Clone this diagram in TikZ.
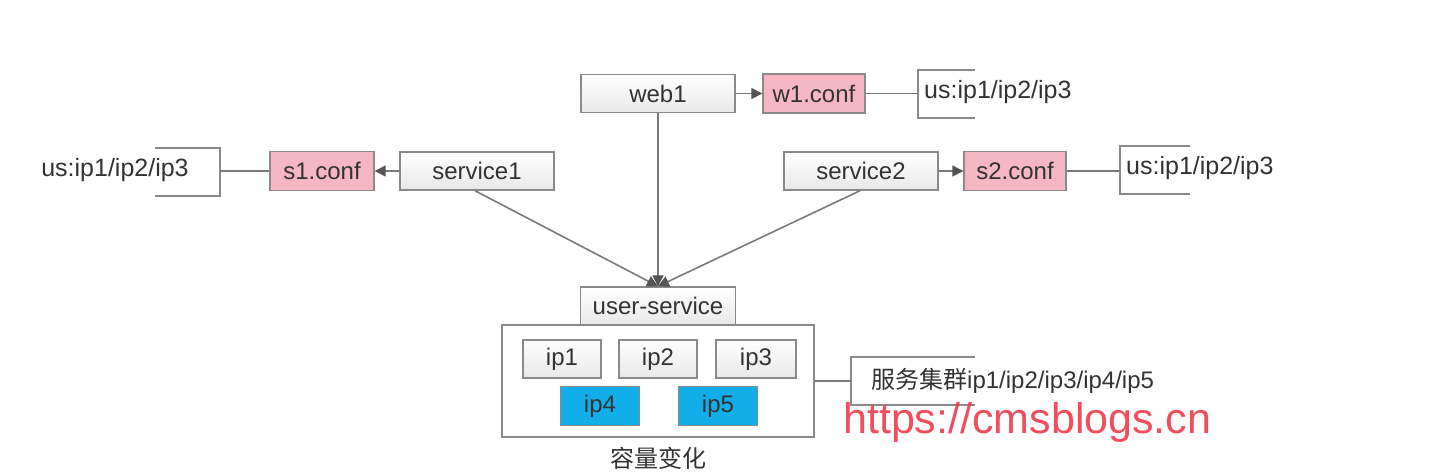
\documentclass[tikz,border=0pt]{standalone}
\usepackage{fontspec}
\setmainfont{Liberation Sans}
\newfontfamily\cjk{Noto Sans CJK SC}
\usetikzlibrary{arrows.meta}
\definecolor{edge}{HTML}{7A7A7A}
\definecolor{boxline}{HTML}{8A8A8A}
\definecolor{txt}{HTML}{333333}
\definecolor{headc}{HTML}{555555}
\definecolor{pinkfill}{HTML}{F6B7C5}
\definecolor{bluefill}{HTML}{12AEEA}
\definecolor{wmred}{HTML}{F03A4E}
\tikzset{
  gbox/.style={draw=boxline, line width=1.4pt, top color=white, bottom color=black!9, minimum height=38pt, inner sep=0pt, text=txt, font=\fontsize{24}{27}\selectfont},
  pbox/.style={draw=boxline, line width=1.4pt, fill=pinkfill, minimum height=39pt, inner sep=0pt, text=txt, font=\fontsize{24}{27}\selectfont},
  bbox/.style={draw=boxline, line width=1.4pt, fill=bluefill, minimum height=39pt, minimum width=79pt, inner sep=0pt, text=txt, font=\fontsize{24}{27}\selectfont},
  ann/.style={inner sep=0pt, text=txt, font=\fontsize{25}{28}\selectfont},
  conn/.style={draw=edge, line width=1.6pt},
  arr/.style={conn, -{Triangle[length=11pt,width=11pt,color=headc]}},
  brk/.style={draw=boxline, line width=1.4pt}
}
\begin{document}
\begin{tikzpicture}[x=1pt,y=-1pt]
\useasboundingbox (0,0) rectangle (1444,472);
\fill[white] (0,0) rectangle (1444,472);

% top row
\node[gbox, minimum width=154pt] (web1) at (658,93.5) {web1};
\node[pbox, minimum width=102pt] (w1conf) at (814,93.5) {w1.conf};
\coordinate (b1t) at (975,70);
\coordinate (b1a) at (918,70);
\coordinate (b1m) at (918,93.5);
\coordinate (b1b) at (918,118);
\coordinate (b1e) at (975,118);
\draw[brk] (b1t) -- (b1a) -- (b1b) -- (b1e);
\node[ann, anchor=west] (us1) at (924,92) {us:ip1/ip2/ip3};

% left
\node[gbox, minimum width=154pt] (service1) at (477,171) {service1};
\node[pbox, minimum width=104pt] (s1conf) at (322,171) {s1.conf};
\coordinate (b2t) at (155,148);
\coordinate (b2a) at (220,148);
\coordinate (b2m) at (220,171);
\coordinate (b2b) at (220,196);
\coordinate (b2e) at (155,196);
\draw[brk] (b2t) -- (b2a) -- (b2b) -- (b2e);
\node[ann] (us2) at (115,170) {us:ip1/ip2/ip3};

% right
\node[gbox, minimum width=154pt] (service2) at (861,171) {service2};
\node[pbox, minimum width=102pt] (s2conf) at (1015,171) {s2.conf};
\coordinate (b3t) at (1190,146);
\coordinate (b3a) at (1120,146);
\coordinate (b3m) at (1120,171);
\coordinate (b3b) at (1120,194);
\coordinate (b3e) at (1190,194);
\draw[brk] (b3t) -- (b3a) -- (b3b) -- (b3e);
\node[ann, anchor=west] (us3) at (1126,168) {us:ip1/ip2/ip3};

% user-service and cluster
\node[gbox, minimum width=155pt] (us) at (658,306) {user-service};
\node[draw=boxline, line width=1.4pt, fill=white, minimum width=312pt, minimum height=112pt, inner sep=0pt] (cluster) at (658,381) {};
\node[gbox, minimum width=78pt] (ip1) at (562,359) {ip1};
\node[gbox, minimum width=78pt] (ip2) at (658,359) {ip2};
\node[gbox, minimum width=80pt] (ip3) at (756,359) {ip3};
\node[bbox] (ip4) at (600,406) {ip4};
\node[bbox] (ip5) at (718,406) {ip5};
\node[ann, font=\cjk\fontsize{24}{27}\selectfont] (cap) at (658,458) {容量变化};

\coordinate (b4t) at (975,357);
\coordinate (b4a) at (851,357);
\coordinate (b4m) at (851,381);
\coordinate (b4b) at (851,405);
\coordinate (b4e) at (975,405);
\draw[brk] (b4t) -- (b4a) -- (b4b) -- (b4e);
\node[ann, anchor=west, font=\fontsize{24}{27}\selectfont] (srv) at (871,381) {{\cjk 服务集群}ip1/ip2/ip3/ip4/ip5};

% connectors
\draw[arr] (web1.east) -- (w1conf.west);
\draw[arr] (service1.west) -- (s1conf.east);
\draw[arr] (service2.east) -- (s2conf.west);
\draw[conn] (w1conf.east) -- (b1m);
\draw[conn] (s1conf.west) -- (b2m);
\draw[conn] (s2conf.east) -- (b3m);
\draw[conn] (cluster.east) -- (b4m);
\coordinate (s1out) at (475,190);
\coordinate (s2out) at (860,190);
\draw[arr] (web1.south) -- (us.north);
\draw[arr] (service1.south -| s1out) -- (us.north);
\draw[arr] (service2.south -| s2out) -- (us.north);

% watermark
\node[anchor=base west, inner sep=0pt, text=wmred, opacity=0.9, font=\fontsize{43}{47}\selectfont] (wm) at (843,433) {https://cmsblogs.cn};
\end{tikzpicture}
\end{document}
